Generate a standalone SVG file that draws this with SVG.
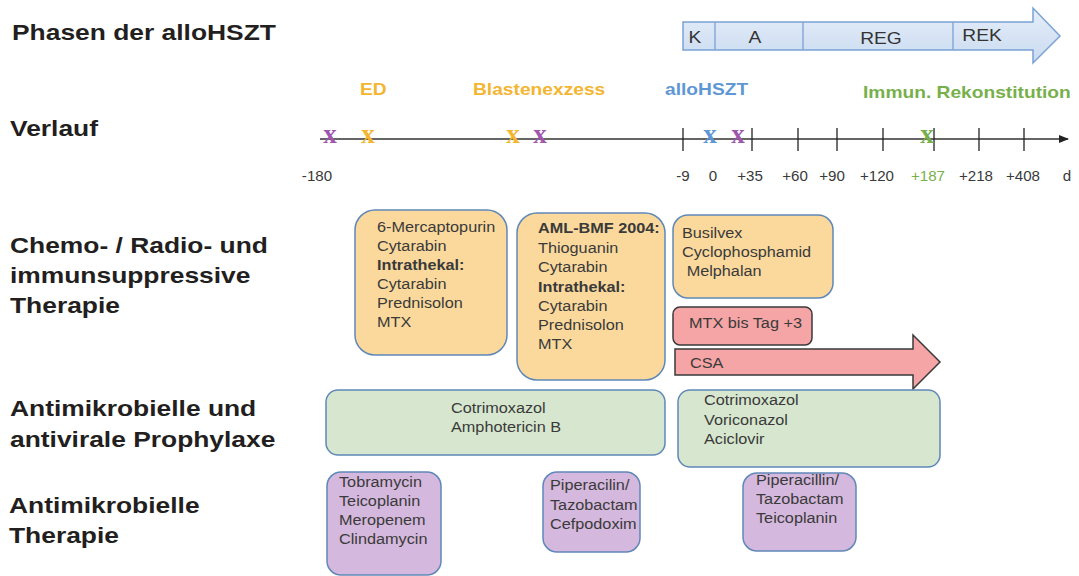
<svg xmlns="http://www.w3.org/2000/svg" width="1079" height="576" viewBox="0 0 1079 576">
<style>
.lbl{font-family:"Liberation Sans",Arial,sans-serif;font-weight:bold;font-size:22px;fill:#231f20}
.bx{font-family:"Liberation Sans",Arial,sans-serif;font-size:14px;fill:#3a3a3a}
.b{font-weight:bold}
.ev{font-family:"Liberation Sans",Arial,sans-serif;font-weight:bold;font-size:16px}
.tk{font-family:"Liberation Sans",Arial,sans-serif;font-size:14px;fill:#3a3a3a;text-anchor:middle}
.ph{font-family:"Liberation Sans",Arial,sans-serif;font-size:16px;fill:#333;text-anchor:middle}
.xm{font-family:"Liberation Serif","Times New Roman",serif;font-weight:bold;font-size:27px;text-anchor:middle}
.or{fill:#fbd99d;stroke:#5f88b8;stroke-width:1.5}
.gr{fill:#d7e7cf;stroke:#5f88b8;stroke-width:1.5}
.pu{fill:#d5b8dd;stroke:#5f88b8;stroke-width:1.5}
.pk{fill:#f5a5a5;stroke:#3a3a3a;stroke-width:1.5}
.tick{stroke:#222;stroke-width:1.3}
</style>
<defs>
<linearGradient id="phg" x1="0" y1="0" x2="0" y2="1">
<stop offset="0" stop-color="#e6eef9"/>
<stop offset="1" stop-color="#c9daf0"/>
</linearGradient>
<marker id="ah" markerWidth="10" markerHeight="8" refX="9" refY="4" orient="auto" markerUnits="userSpaceOnUse">
<path d="M0,0 L10,4 L0,8 z" fill="#222"/>
</marker>
</defs>
<rect width="1079" height="576" fill="#ffffff"/>

<g id="row-labels">
<text class="lbl" transform="translate(12,40) scale(1.2,1)">Phasen der alloHSZT</text>
<text class="lbl" transform="translate(10,136) scale(1.2,1)">Verlauf</text>
<text class="lbl" transform="translate(10,0) scale(1.2,1)"><tspan x="0" y="253">Chemo- / Radio- und</tspan><tspan x="0" y="283">immunsuppressive</tspan><tspan x="0" y="313">Therapie</tspan></text>
<text class="lbl" transform="translate(10,0) scale(1.2,1)"><tspan x="0" y="416">Antimikrobielle und</tspan><tspan x="0" y="447">antivirale Prophylaxe</tspan></text>
<text class="lbl" transform="translate(9,0) scale(1.2,1)"><tspan x="0" y="513">Antimikrobielle</tspan><tspan x="0" y="543">Therapie</tspan></text>
</g>

<g id="phases">
<path d="M683,22 H1033 V8 L1060,36 L1033,63 V50 H683 Z" fill="url(#phg)" stroke="#7aa2d3" stroke-width="1.5"/>
<line x1="715" y1="22" x2="715" y2="50" stroke="#7aa2d3" stroke-width="1.3"/>
<line x1="803" y1="22" x2="803" y2="50" stroke="#7aa2d3" stroke-width="1.3"/>
<line x1="953" y1="22" x2="953" y2="50" stroke="#7aa2d3" stroke-width="1.3"/>
<text class="ph" transform="translate(695,43) scale(1.2,1)">K</text>
<text class="ph" transform="translate(755,43) scale(1.2,1)">A</text>
<text class="ph" transform="translate(881,44) scale(1.2,1)">REG</text>
<text class="ph" transform="translate(982,41) scale(1.2,1)">REK</text>
</g>

<g id="connectors">
<line x1="320" y1="139" x2="1068" y2="139" stroke="#333" stroke-width="1.5" marker-end="url(#ah)"/>
</g>

<g id="timeline">
<line class="tick" x1="683" y1="128" x2="683" y2="151"/>
<line class="tick" x1="752" y1="128" x2="752" y2="151"/>
<line class="tick" x1="798" y1="128" x2="798" y2="151"/>
<line class="tick" x1="837" y1="128" x2="837" y2="151"/>
<line class="tick" x1="883" y1="128" x2="883" y2="151"/>
<line class="tick" x1="934" y1="128" x2="934" y2="151"/>
<line class="tick" x1="979" y1="128" x2="979" y2="151"/>
<line class="tick" x1="1024" y1="128" x2="1024" y2="151"/>
<text class="tk" transform="translate(317,181) scale(1.08,1)">-180</text>
<text class="tk" transform="translate(683,181) scale(1.08,1)">-9</text>
<text class="tk" transform="translate(713,181) scale(1.08,1)">0</text>
<text class="tk" transform="translate(750,181) scale(1.08,1)">+35</text>
<text class="tk" transform="translate(795,181) scale(1.08,1)">+60</text>
<text class="tk" transform="translate(832,181) scale(1.08,1)">+90</text>
<text class="tk" transform="translate(877,181) scale(1.08,1)">+120</text>
<text class="tk" transform="translate(928,181) scale(1.08,1)" style="fill:#77b04b">+187</text>
<text class="tk" transform="translate(976,181) scale(1.08,1)">+218</text>
<text class="tk" transform="translate(1023,181) scale(1.08,1)">+408</text>
<text class="tk" transform="translate(1067,181) scale(1.08,1)">d</text>
<text class="xm" transform="translate(330,143)" fill="#a058ad">x</text>
<text class="xm" transform="translate(368,143)" fill="#f4b531">x</text>
<text class="xm" transform="translate(513,143)" fill="#f4b531">x</text>
<text class="xm" transform="translate(540,143)" fill="#a058ad">x</text>
<text class="xm" transform="translate(710,143)" fill="#5e97d4">x</text>
<text class="xm" transform="translate(738,143)" fill="#a058ad">x</text>
<text class="xm" transform="translate(927,143)" fill="#77b04b">x</text>
<text class="ev" transform="translate(360,95) scale(1.2,1)" fill="#f4b531">ED</text>
<text class="ev" transform="translate(473,95) scale(1.2,1)" fill="#f4b531">Blastenexzess</text>
<text class="ev" transform="translate(665,95) scale(1.2,1)" fill="#5e97d4">alloHSZT</text>
<text class="ev" transform="translate(863,98) scale(1.2,1)" fill="#77b04b">Immun. Rekonstitution</text>
</g>

<g id="chemo-ed">
<rect class="or" x="355" y="210" width="152" height="145" rx="20"/>
<text class="bx" transform="translate(377,0) scale(1.16,1)"><tspan x="0" y="232">6-Mercaptopurin</tspan><tspan x="0" y="251">Cytarabin</tspan><tspan x="0" y="270" class="b">Intrathekal:</tspan><tspan x="0" y="289">Cytarabin</tspan><tspan x="0" y="308">Prednisolon</tspan><tspan x="0" y="327">MTX</tspan></text>
</g>

<g id="chemo-blast">
<rect class="or" x="517" y="213" width="148" height="167" rx="20"/>
<text class="bx" transform="translate(538,0) scale(1.16,1)"><tspan x="0" y="233" class="b">AML-BMF 2004:</tspan><tspan x="0" y="253">Thioguanin</tspan><tspan x="0" y="272">Cytarabin</tspan><tspan x="0" y="292" class="b">Intrathekal:</tspan><tspan x="0" y="311">Cytarabin</tspan><tspan x="0" y="330">Prednisolon</tspan><tspan x="0" y="349">MTX</tspan></text>
</g>

<g id="chemo-conditioning">
<rect class="or" x="673" y="215" width="160" height="83" rx="15"/>
<text class="bx" transform="translate(682,0) scale(1.16,1)"><tspan x="0" y="238">Busilvex</tspan><tspan x="0" y="257">Cyclophosphamid</tspan><tspan x="4" y="276">Melphalan</tspan></text>
</g>

<g id="mtx">
<rect class="pk" x="673" y="307" width="139" height="38" rx="7"/>
<text class="bx" transform="translate(689,328) scale(1.16,1)">MTX bis Tag +3</text>
</g>

<g id="csa">
<path class="pk" d="M675,349 H913 V335 L940,362 L913,389 V375 H675 Z"/>
<text class="bx" transform="translate(690,368) scale(1.16,1)">CSA</text>
</g>

<g id="prophylaxe-pre">
<rect class="gr" x="326" y="390" width="339" height="65" rx="12"/>
<text class="bx" transform="translate(451,0) scale(1.16,1)"><tspan x="0" y="413">Cotrimoxazol</tspan><tspan x="0" y="432">Amphotericin B</tspan></text>
</g>

<g id="prophylaxe-post">
<rect class="gr" x="678" y="390" width="262" height="77" rx="12"/>
<text class="bx" transform="translate(704,0) scale(1.16,1)"><tspan x="0" y="405">Cotrimoxazol</tspan><tspan x="0" y="425">Voriconazol</tspan><tspan x="0" y="444">Aciclovir</tspan></text>
</g>

<g id="therapie-1">
<rect class="pu" x="327" y="472" width="114" height="103" rx="14"/>
<text class="bx" transform="translate(339,0) scale(1.16,1)"><tspan x="0" y="487">Tobramycin</tspan><tspan x="0" y="506">Teicoplanin</tspan><tspan x="0" y="525">Meropenem</tspan><tspan x="0" y="544">Clindamycin</tspan></text>
</g>

<g id="therapie-2">
<rect class="pu" x="543" y="472" width="97" height="80" rx="14"/>
<text class="bx" transform="translate(550,0) scale(1.16,1)"><tspan x="0" y="490">Piperacilin/</tspan><tspan x="0" y="510">Tazobactam</tspan><tspan x="0" y="529">Cefpodoxim</tspan></text>
</g>

<g id="therapie-3">
<rect class="pu" x="743" y="473" width="113" height="78" rx="14"/>
<text class="bx" transform="translate(756,0) scale(1.16,1)"><tspan x="0" y="485">Piperacillin/</tspan><tspan x="0" y="504">Tazobactam</tspan><tspan x="0" y="523">Teicoplanin</tspan></text>
</g>
</svg>
